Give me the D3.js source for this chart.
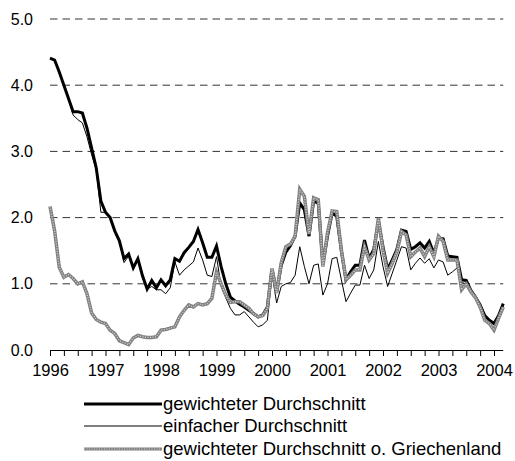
<!DOCTYPE html>
<html lang="de">
<head>
<meta charset="UTF-8">
<title>Durchschnitt</title>
<script src="https://d3js.org/d3.v7.min.js"></script>
<style>
    body { margin: 0; background: #fff; }
    svg { display: block; font-family: "Liberation Sans", Arial, sans-serif; }
    .grid line { stroke: #333; stroke-dasharray: 7.5,5; }
</style>
</head>
<body>
<svg id="chart" width="515" height="461"></svg>
<script>
    // monthly values, Jan 1996 .. Mar 2004
    const yearLabels = ["1996", "1997", "1998", "1999", "2000", "2001", "2002", "2003", "2004"];
    const yTicks = [0, 1, 2, 3, 4, 5];

    const weighted = [
        4.41, 4.38, 4.20, 4.00, 3.80, 3.60, 3.60, 3.58, 3.35, 3.05, 2.75, 2.25,
        2.08, 2.00, 1.80, 1.65, 1.38, 1.45, 1.24, 1.38, 1.12, 0.92, 1.05, 0.94,
        1.06, 0.97, 1.06, 1.38, 1.34, 1.47, 1.55, 1.64, 1.82, 1.62, 1.40, 1.40,
        1.57, 1.26, 1.00, 0.80, 0.74, 0.69, 0.65, 0.60, 0.55, 0.50, 0.53, 0.65,
        1.22, 0.88, 1.28, 1.48, 1.58, 1.72, 2.22, 2.12, 1.72, 2.25, 2.22, 1.30,
        1.72, 2.07, 2.02, 1.50, 1.06, 1.18, 1.28, 1.28, 1.66, 1.38, 1.52, 1.94,
        1.56, 1.22, 1.36, 1.52, 1.81, 1.79, 1.52, 1.56, 1.62, 1.54, 1.64, 1.46,
        1.69, 1.68, 1.42, 1.41, 1.40, 1.06, 1.05, 0.90, 0.80, 0.68, 0.52, 0.45,
        0.40, 0.52, 0.70
    ];
    const simple = [
        4.41, 4.38, 4.20, 4.00, 3.78, 3.55, 3.48, 3.43, 3.22, 2.95, 2.72, 2.08,
        2.08, 2.00, 1.80, 1.66, 1.32, 1.42, 1.24, 1.38, 1.10, 0.92, 0.96, 0.91,
        0.91, 0.85, 0.94, 1.33, 1.13, 1.21, 1.27, 1.33, 1.54, 1.36, 1.13, 1.11,
        1.41, 0.96, 0.79, 0.63, 0.53, 0.53, 0.58, 0.50, 0.42, 0.35, 0.38, 0.45,
        1.15, 0.71, 0.96, 1.00, 1.02, 1.13, 1.56, 1.26, 1.00, 1.28, 1.30, 0.83,
        1.00, 1.38, 1.40, 1.06, 0.73, 0.86, 0.98, 0.98, 1.28, 1.08, 1.21, 1.64,
        1.26, 0.96, 1.16, 1.36, 1.56, 1.54, 1.21, 1.31, 1.39, 1.31, 1.38, 1.24,
        1.36, 1.33, 1.13, 1.18, 1.24, 1.02, 1.00, 0.88, 0.80, 0.66, 0.50, 0.44,
        0.38, 0.50, 0.68
    ];
    const withoutGreece = [
        2.17, 1.80, 1.25, 1.10, 1.14, 1.08, 1.00, 1.03, 0.85, 0.56, 0.46, 0.42,
        0.40, 0.30, 0.25, 0.14, 0.11, 0.08, 0.18, 0.22, 0.20, 0.19, 0.19, 0.20,
        0.30, 0.31, 0.33, 0.35, 0.50, 0.60, 0.68, 0.65, 0.70, 0.68, 0.70, 0.78,
        1.18, 1.00, 0.83, 0.72, 0.73, 0.73, 0.68, 0.63, 0.55, 0.50, 0.52, 0.63,
        1.23, 0.86, 1.32, 1.56, 1.60, 1.72, 2.43, 2.32, 1.75, 2.30, 2.27, 1.26,
        1.77, 2.10, 2.09, 1.51, 1.06, 1.13, 1.21, 1.21, 1.56, 1.36, 1.46, 1.99,
        1.51, 1.16, 1.31, 1.48, 1.79, 1.74, 1.41, 1.48, 1.54, 1.41, 1.56, 1.41,
        1.72, 1.64, 1.36, 1.36, 1.36, 0.91, 1.00, 0.88, 0.79, 0.65, 0.45, 0.40,
        0.30, 0.48, 0.65
    ];

    const seriesNames = [
        "gewichteter Durchschnitt",
        "einfacher Durchschnitt",
        "gewichteter Durchschnitt o. Griechenland"
    ];

    const fontSize = 16;
    const legendFontSize = 18.5;
    const svg = d3.select("#chart");
    const plotLeft = 50, plotRight = 503.25, plotTop = 19, plotBottom = 350;

    const x = d3.scaleLinear().domain([0, weighted.length - 1]).range([plotLeft, plotRight]);
    const y = d3.scaleLinear().domain([0, 5]).range([plotBottom, plotTop]);

    // dashed gridlines
    svg.append("g")
        .attr("class", "grid")
        .selectAll("line")
        .data(yTicks.filter(d => d > 0))
        .enter().append("line")
        .attr("x1", plotLeft).attr("x2", plotRight)
        .attr("y1", d => y(d)).attr("y2", d => y(d));

    // y labels
    const yAxis = svg.append("g")
        .attr("transform", `translate(${plotLeft},0)`)
        .call(d3.axisLeft(y).tickValues(yTicks).tickFormat(d3.format(".1f")).tickSize(0).tickPadding(17));
    yAxis.select(".domain").remove();
    yAxis.selectAll("text").attr("font-size", fontSize).attr("fill", "#000").attr("font-family", "Liberation Sans, Arial, sans-serif");

    // x axis with quarterly ticks
    const xAxis = svg.append("g")
        .attr("transform", `translate(0,${plotBottom})`)
        .call(d3.axisBottom(x)
            .tickValues(d3.range(0, weighted.length - 1, 3))
            .tickSize(6)
            .tickPadding(8)
            .tickFormat(d => d % 12 === 0 ? yearLabels[d / 12] : ""));
    xAxis.select(".domain").attr("d", `M${plotLeft},0.5H${plotRight}`).attr("stroke", "#000");
    xAxis.selectAll(".tick line").attr("stroke", "#000");
    xAxis.selectAll("text").attr("font-size", 16.5).attr("fill", "#000").attr("font-family", "Liberation Sans, Arial, sans-serif");

    const line = d3.line().x((d, i) => x(i)).y(d => y(d));

    svg.append("path").datum(weighted)
        .attr("d", line).attr("fill", "none")
        .attr("stroke", "#000").attr("stroke-width", 3);

    svg.append("path").datum(simple)
        .attr("d", line).attr("fill", "none")
        .attr("stroke", "#000").attr("stroke-width", 1);

    // textured grey line
    svg.append("path").datum(withoutGreece)
        .attr("d", line).attr("fill", "none")
        .attr("stroke", "#808080").attr("stroke-width", 3.5);
    svg.append("path").datum(withoutGreece)
        .attr("d", line).attr("fill", "none")
        .attr("stroke", "#d4d4d4").attr("stroke-width", 1.3)
        .attr("stroke-dasharray", "1,1.5");

    // legend
    const legendY = [404, 426, 449];
    const legend = svg.append("g");
    seriesNames.forEach((name, i) => {
        const g = legend.append("g").attr("transform", `translate(0,${legendY[i]})`);
        if (i === 2) {
            g.append("line").attr("x1", 84).attr("x2", 162)
                .attr("stroke", "#808080").attr("stroke-width", 3);
            g.append("line").attr("x1", 84).attr("x2", 162)
                .attr("stroke", "#d4d4d4").attr("stroke-width", 1.1)
                .attr("stroke-dasharray", "1,1.5");
        } else {
            g.append("line").attr("x1", 84).attr("x2", 162)
                .attr("stroke", "#000").attr("stroke-width", i === 0 ? 3 : 1);
        }
        g.append("text")
            .attr("x", 163).attr("y", 0).attr("dy", "0.35em")
            .attr("font-size", legendFontSize)
            .attr("font-family", "Liberation Sans, Arial, sans-serif")
            .text(name);
    });
</script>
</body>
</html>
